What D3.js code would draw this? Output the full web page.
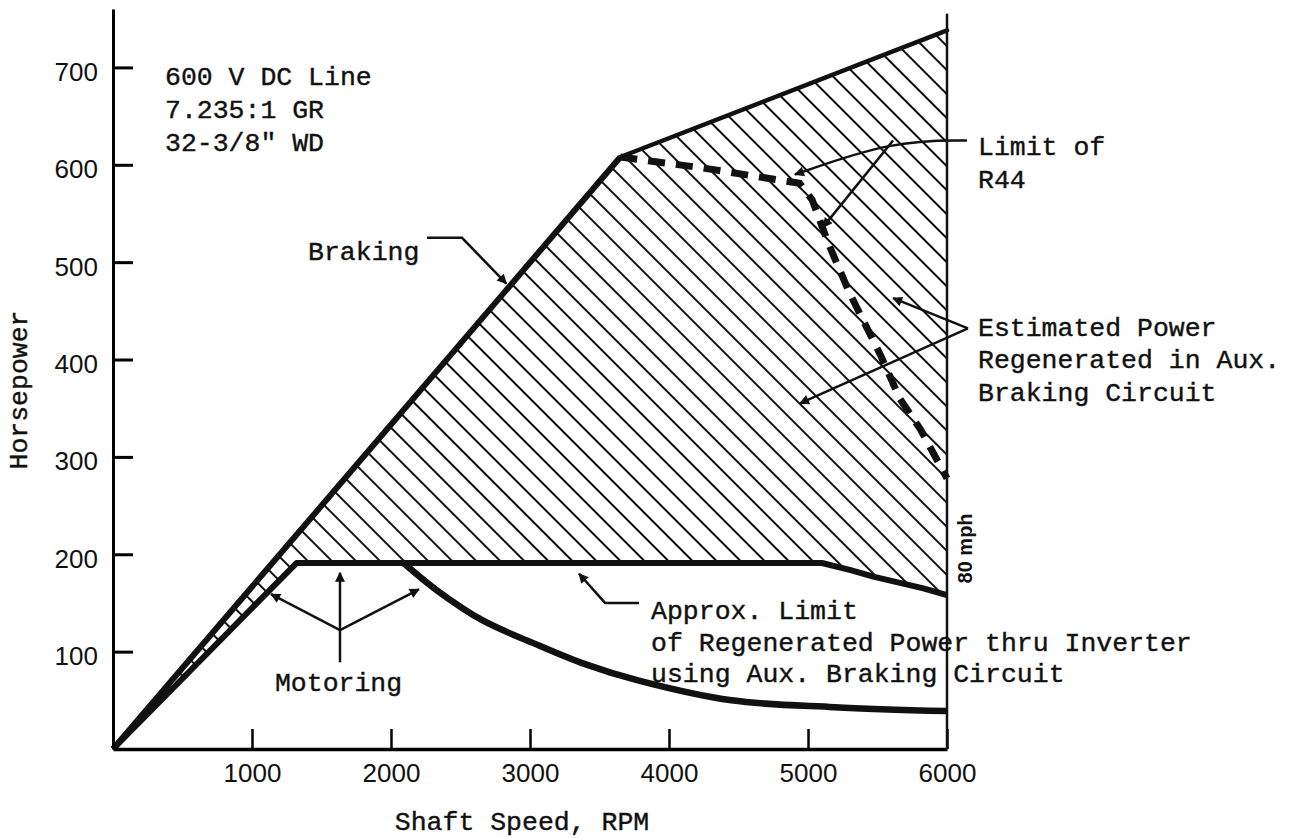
<!DOCTYPE html>
<html>
<head>
<meta charset="utf-8">
<script src="https://cdn.jsdelivr.net/npm/d3@7"></script>
<style>
  body { margin: 0; background: #fff; }
  .mono { font-family: "Liberation Mono", "Courier New", monospace; font-size: 26.5px; fill: #111; stroke: #111; stroke-width: 0.4px; }
  .tick text { font-family: "Liberation Sans", Arial, sans-serif; font-size: 26px; fill: #111; }
</style>
</head>
<body>
<div id="chart"></div>
<script>
// axis ticks
var rpmTicks = [1000, 2000, 3000, 4000, 5000, 6000];
var hpTicks = [100, 200, 300, 400, 500, 600, 700];

// braking envelope (upper edge of hatched area)
var brakingRpm = [0, 3650, 6000];
var brakingHp = [0, 608, 738];

// motoring line, then approx. limit of regenerated power thru inverter
var limitRpm = [0, 1320, 5100, 5300, 5470, 5830, 6000];
var limitHp = [0, 191, 191, 184, 177, 165, 158];

// motoring curve falling away above ~2100 rpm
var motoringRpm = [2090, 2330, 2660, 3020, 3380, 3790, 4450, 5190, 6000];
var motoringHp = [191, 163, 132, 109, 88, 70, 50, 43, 39];

// limit of R44 (dashed)
var r44Rpm = [3650, 4230, 4940, 5030, 5150, 5300, 5520, 5660, 5810, 6000];
var r44Hp = [608, 597, 581, 564, 518, 468, 405, 360, 328, 278];

// labels
var specLines = ["600 V DC Line", "7.235:1 GR", "32-3/8\" WD"];
var r44Label = ["Limit of", "R44"];
var estLabel = ["Estimated Power", "Regenerated in Aux.", "Braking Circuit"];
var approxLabel = ["Approx. Limit", "of Regenerated Power thru Inverter", "using Aux. Braking Circuit"];

var width = 1291, height = 838;

var svg = d3.select("#chart")
  .append("svg")
    .attr("width", width)
    .attr("height", height);

var x = d3.scaleLinear().domain([0, 6000]).range([113, 947]);
var y = d3.scaleLinear().domain([0, 760]).range([749, 9]);

function zip(a, b) { return a.map(function(d, i) { return [d, b[i]]; }); }

var line = d3.line()
  .x(function(d) { return x(d[0]); })
  .y(function(d) { return y(d[1]); });

var defs = svg.append("defs");

// diagonal hatch
var pat = defs.append("pattern")
  .attr("id", "hatch")
  .attr("patternUnits", "userSpaceOnUse")
  .attr("width", 17)
  .attr("height", 17)
  .attr("patternTransform", "rotate(-45)");
pat.append("line")
  .attr("x1", 8).attr("x2", 8)
  .attr("y1", 0).attr("y2", 17)
  .attr("stroke", "#111")
  .attr("stroke-width", 2);

defs.append("marker")
  .attr("id", "arrow")
  .attr("viewBox", "0 0 10 10")
  .attr("refX", 9).attr("refY", 5)
  .attr("markerUnits", "userSpaceOnUse")
  .attr("markerWidth", 13).attr("markerHeight", 10)
  .attr("orient", "auto")
  .append("path")
    .attr("d", "M0,0L10,5L0,10Z")
    .attr("fill", "#111");

var braking = zip(brakingRpm, brakingHp);
var limit = zip(limitRpm, limitHp);

// hatched region between braking and limit curves
var region = braking.concat(limit.slice().reverse());
svg.append("path")
  .attr("d", line(region) + "Z")
  .attr("fill", "url(#hatch)")
  .attr("stroke", "none");

// curves
svg.append("path")
  .attr("d", line(braking.slice(0, 2)))
  .attr("fill", "none").attr("stroke", "#111").attr("stroke-width", 6)
  .attr("stroke-linejoin", "round");
svg.append("path")
  .attr("d", line(braking.slice(1)))
  .attr("fill", "none").attr("stroke", "#111").attr("stroke-width", 4.5)
  .attr("stroke-linecap", "round");

svg.append("path")
  .attr("d", line(limit))
  .attr("fill", "none").attr("stroke", "#111").attr("stroke-width", 6)
  .attr("stroke-linejoin", "round");

svg.append("path")
  .attr("d", line.curve(d3.curveCatmullRom.alpha(0.5))(zip(motoringRpm, motoringHp)))
  .attr("fill", "none").attr("stroke", "#111").attr("stroke-width", 6.5);
line.curve(d3.curveLinear);

svg.append("path")
  .attr("d", line(zip(r44Rpm, r44Hp)))
  .attr("fill", "none").attr("stroke", "#111").attr("stroke-width", 7)
  .attr("stroke-dasharray", "17,11");

// axes
var yAxis = svg.append("g")
  .attr("transform", "translate(" + x(0) + ",0)")
  .call(d3.axisRight(y).tickValues(hpTicks).tickSizeInner(20).tickSizeOuter(0));
yAxis.select(".domain").attr("stroke-width", 3);
yAxis.selectAll(".tick line").attr("stroke-width", 3);
yAxis.selectAll(".tick text")
  .attr("x", -15).attr("dy", null).attr("y", 13)
  .attr("text-anchor", "end");

var xAxis = svg.append("g")
  .attr("transform", "translate(0," + y(0) + ")")
  .call(d3.axisTop(x).tickValues(rpmTicks).tickSizeInner(20).tickSizeOuter(0).tickFormat(d3.format("d")));
xAxis.select(".domain").attr("stroke-width", 3.5);
xAxis.selectAll(".tick line").attr("stroke-width", 2.5);
xAxis.selectAll(".tick text")
  .attr("y", 33).attr("dy", null);

// right boundary at 6000 rpm
svg.append("line")
  .attr("x1", x(6000)).attr("x2", x(6000))
  .attr("y1", y(0)).attr("y2", y(755))
  .attr("stroke", "#111").attr("stroke-width", 2.5);

// axis titles
svg.append("text")
  .attr("class", "mono")
  .attr("transform", "translate(20,390) rotate(-90)")
  .attr("text-anchor", "middle")
  .attr("dominant-baseline", "central")
  .text("Horsepower");
svg.append("text")
  .attr("class", "mono")
  .attr("x", 522).attr("y", 830)
  .attr("text-anchor", "middle")
  .text("Shaft Speed, RPM");

// text blocks
function block(lines, rpm, hps) {
  lines.forEach(function(t, i) {
    svg.append("text")
      .attr("class", "mono")
      .attr("x", x(rpm)).attr("y", y(hps[i]))
      .text(t);
  });
}
block(specLines, 374, [682, 648, 614]);
block(["Braking"], 1403, [502]);
block(r44Label, 6223, [610, 576]);
block(estLabel, 6223, [424, 391, 357]);
block(approxLabel, 3871, [134, 101, 69]);
block(["Motoring"], 1165, [60]);

svg.append("text")
  .attr("transform", "translate(" + x(6129) + "," + y(206) + ") rotate(-90)")
  .attr("text-anchor", "middle")
  .attr("dominant-baseline", "central")
  .attr("font-family", "Liberation Sans, Arial, sans-serif")
  .attr("font-weight", "bold")
  .attr("font-size", 20)
  .attr("fill", "#111")
  .text("80 mph");

// leaders
function leader(pts, curve, arrow) {
  var l = d3.line()
    .x(function(d) { return x(d[0]); })
    .y(function(d) { return y(d[1]); })
    .curve(curve || d3.curveLinear);
  var p = svg.append("path")
    .attr("d", l(pts))
    .attr("fill", "none")
    .attr("stroke", "#111")
    .attr("stroke-width", 2.5);
  if (arrow !== false) p.attr("marker-end", "url(#arrow)");
}
leader([[2259, 525], [2511, 525], [2830, 478]]);
leader([[6144, 625], [5612, 625], [4906, 590]], d3.curveBasis);
leader([[5612, 625], [5108, 536]]);
leader([[6151, 432], [5612, 463]]);
leader([[6151, 432], [4942, 355]]);
leader([[3784, 150], [3540, 150], [3353, 180]]);
leader([[1633, 89], [1633, 181]]);
leader([[1633, 122], [1137, 159]]);
leader([[1633, 122], [2201, 164]]);
</script>
</body>
</html>
